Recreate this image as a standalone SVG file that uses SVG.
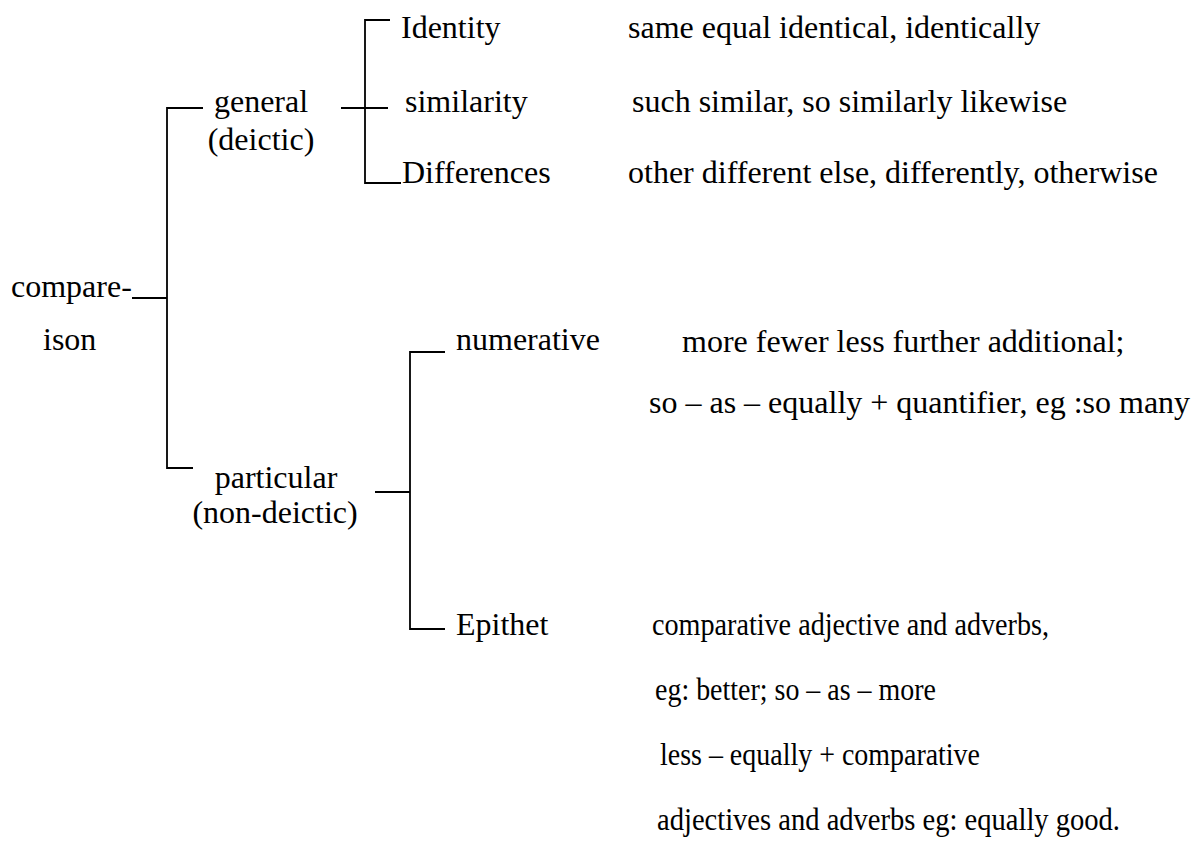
<svg xmlns="http://www.w3.org/2000/svg" width="1201" height="842" viewBox="0 0 1201 842">
<style>
text{font-family:'Liberation Serif','Times New Roman',serif;font-size:32px;fill:#000}
.c{text-anchor:middle}
.ln{stroke:#000;stroke-width:1.8;fill:none}
</style>
<rect width="1201" height="842" fill="#fff"/>
<g id="connectors">
<path class="ln" d="M132 298H167M203 108H167V468H193"/>
<path class="ln" d="M341 108H388M390 20H365V183H401"/>
<path class="ln" d="M375 492H410M445 352H410V629H445"/>
</g>
<g id="comparison"><text x="11" y="297">compare-</text><text x="43" y="350">ison</text></g>
<g id="general"><text class="c" x="261" y="112">general</text><text class="c" x="261" y="150">(deictic)</text></g>
<g id="particular"><text class="c" x="276" y="488">particular</text><text class="c" x="275" y="523">(non-deictic)</text></g>
<g id="identity"><text x="401" y="38">Identity</text><text x="628" y="38">same equal identical, identically</text></g>
<g id="similarity"><text x="405" y="112">similarity</text><text x="632" y="112">such similar, so similarly likewise</text></g>
<g id="differences"><text x="402" y="183">Differences</text><text x="628" y="183">other different else, differently, otherwise</text></g>
<g id="numerative"><text x="456" y="350">numerative</text><text x="682" y="352">more fewer less further additional;</text><text x="649" y="413">so – as – equally + quantifier, eg :so many</text></g>
<g id="epithet"><text x="456" y="635">Epithet</text><text x="652" y="635" textLength="397" lengthAdjust="spacingAndGlyphs">comparative adjective and adverbs,</text><text x="655" y="700" textLength="281" lengthAdjust="spacingAndGlyphs">eg: better; so – as – more</text><text x="660" y="765" textLength="320" lengthAdjust="spacingAndGlyphs">less – equally + comparative</text><text x="657" y="830" textLength="463" lengthAdjust="spacingAndGlyphs">adjectives and adverbs eg: equally good.</text></g>
</svg>
